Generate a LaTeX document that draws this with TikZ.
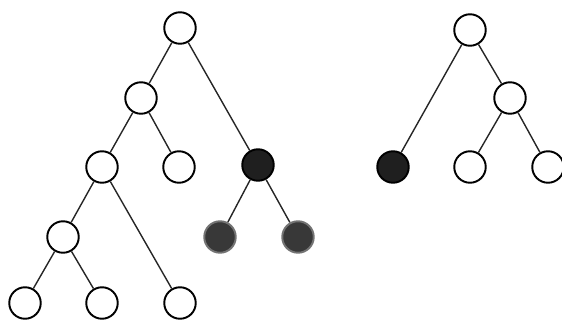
\documentclass[tikz,border=0pt]{standalone}
\begin{document}
\begin{tikzpicture}[x=0.02cm, y=-0.02cm,
        vert/.style={circle, draw, line width=1.1pt, minimum size=0.63cm, inner sep=0pt, fill=white},
        cut/.style={vert, fill=black!88},
        gone/.style={vert, fill=black!78, draw=black!55}]
                \useasboundingbox (0, 0) rectangle (562, 322);

                \node[vert] (root) at (180, 28) {};
                \node[vert] (l) at (141, 98) {};
                \node[vert] (ll) at (102, 167) {};
                \node[vert] (lr) at (179, 167) {};
                \node[cut] (r) at (258, 165) {};
                \node[vert] (lll) at (63, 237) {};
                \node[gone] (rl) at (220, 237) {};
                \node[gone] (rr) at (298, 237) {};
                \node[vert] (llll) at (25, 303) {};
                \node[vert] (lllr) at (102, 303) {};
                \node[vert] (llr) at (180, 303) {};

                \draw[line width=0.8pt, black!85] (root) -- (l) (root) -- (r);
                \draw[line width=0.8pt, black!85] (l) -- (ll) (l) -- (lr);
                \draw[line width=0.8pt, black!85] (ll) -- (lll) (ll) -- (llr);
                \draw[line width=0.8pt, black!85] (lll) -- (llll) (lll) -- (lllr);
                \draw[line width=0.8pt, black!85] (r) -- (rl) (r) -- (rr);

                \node[vert] (root2) at (470, 30) {};
                \node[cut] (l2) at (393, 167) {};
                \node[vert] (r2) at (510, 98) {};
                \node[vert] (rl2) at (470, 167) {};
                \node[vert] (rr2) at (548, 167) {};

                \draw[line width=0.8pt, black!85] (root2) -- (l2) (root2) -- (r2);
                \draw[line width=0.8pt, black!85] (r2) -- (rl2) (r2) -- (rr2);
            \end{tikzpicture}
\end{document}
